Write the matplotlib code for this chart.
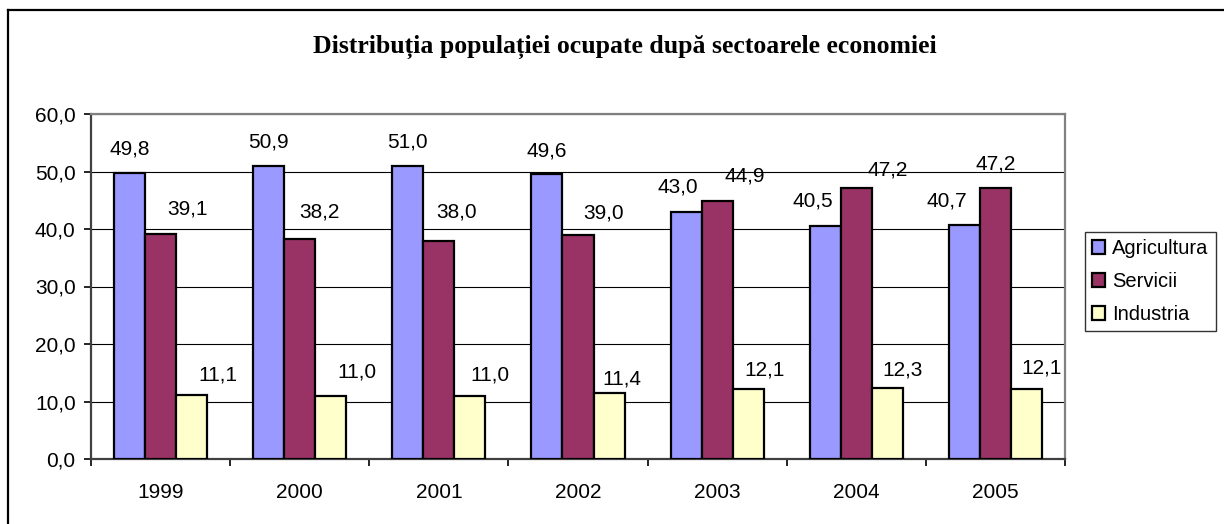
import matplotlib
matplotlib.use("Agg")
import matplotlib.pyplot as plt
from matplotlib.lines import Line2D
from matplotlib.ticker import FuncFormatter, MultipleLocator
import numpy as np

years = ["1999", "2000", "2001", "2002", "2003", "2004", "2005"]
agricultura = [49.8, 50.9, 51.0, 49.6, 43.0, 40.5, 40.7]
servicii = [39.1, 38.2, 38.0, 39.0, 44.9, 47.2, 47.2]
industria = [11.1, 11.0, 11.0, 11.4, 12.1, 12.3, 12.1]

series_names = ["Agricultura", "Servicii", "Industria"]
colors = ["#9999FF", "#993366", "#FFFFCC"]

# label offsets (pixels, from top-centre of each bar) - labels were moved by hand in the original
offs_agr = [(0, 24), (0, 24), (0, 24), (0, 23), (-8, 25), (-12, 25), (-18, 24)]
offs_ser = [(27, 25), (20, 27), (18, 28), (26, 22), (28, 25), (31, 18), (0, 24)]
offs_ind = [(26, 20), (26, 24), (20, 21), (13, 14), (16, 19), (15, 18), (15, 21)]

plt.rcParams['font.family'] = ['Liberation Sans', 'DejaVu Sans']

W, H = 1224, 524
fig = plt.figure(figsize=(W / 100, H / 100), dpi=100)
ax = fig.add_axes([91 / W, 1 - 459 / H, (1065 - 91) / W, (459 - 114) / H])

x = np.arange(len(years))
bw = 31 / 139.0
all_bars = []
for k, (vals, c, name) in enumerate(zip([agricultura, servicii, industria], colors, series_names)):
    b = ax.bar(x + (k - 1) * bw, vals, bw, color=c, edgecolor='black', linewidth=1.6,
               label=name, zorder=3)
    all_bars.append(b)

def fmt(v):
    return ("%.1f" % v).replace(".", ",")

for bars, offs in zip(all_bars, [offs_agr, offs_ser, offs_ind]):
    for rect, (dx, dy) in zip(bars, offs):
        v = rect.get_height()
        ax.annotate(fmt(v), (rect.get_x() + rect.get_width() / 2, v),
                    xytext=(dx, dy), textcoords='offset pixels',
                    ha='center', va='center', fontsize=15, zorder=4)

ax.set_xlim(-0.5, len(years) - 0.5)
ax.set_ylim(0, 60)
ax.yaxis.set_major_locator(MultipleLocator(10))
ax.yaxis.set_major_formatter(FuncFormatter(lambda v, p: fmt(v)))
ax.yaxis.grid(True, color='black', linewidth=0.8, zorder=0)
ax.set_axisbelow(True)

ax.set_xticks(np.arange(len(years) + 1) - 0.5)
ax.set_xticklabels([])
ax.set_xticks(x, minor=True)
ax.set_xticklabels(years, minor=True)
ax.tick_params(axis='x', which='major', length=5, width=1.2, direction='out')
ax.tick_params(axis='x', which='minor', length=0, pad=17, labelsize=15)
ax.tick_params(axis='y', length=5, width=1.2, direction='out', pad=6, labelsize=15)

for s in ['top', 'right']:
    ax.spines[s].set_color('#808080')
    ax.spines[s].set_linewidth(1.6)
for s in ['left', 'bottom']:
    ax.spines[s].set_color('#404040')
    ax.spines[s].set_linewidth(1.6)

leg = ax.legend(loc='upper left', bbox_to_anchor=(1085 / W, 1 - 232 / H),
                bbox_transform=fig.transFigure, fontsize=14.5, frameon=True,
                fancybox=False, shadow=False, borderaxespad=0, borderpad=0.35,
                handlelength=0.65, handleheight=0.65, handletextpad=0.35,
                labelspacing=0.7)
leg.get_frame().set_edgecolor('black')
leg.get_frame().set_linewidth(1.0)

fig.text(625 / W, 1 - 47 / H, "Distribuția populației ocupate după sectoarele economiei",
         ha='center', va='center', fontsize=18.5, fontweight='bold',
         family=['Liberation Serif', 'DejaVu Serif'])

# outer chart frame (only top and left edges are inside the picture)
fig.add_artist(Line2D([8 / W, 8 / W], [0, 1 - 10 / H], transform=fig.transFigure,
                      color='black', linewidth=1.6))
fig.add_artist(Line2D([8 / W, 1], [1 - 10 / H, 1 - 10 / H], transform=fig.transFigure,
                      color='black', linewidth=1.6))

fig.savefig("out.png", dpi=100)
